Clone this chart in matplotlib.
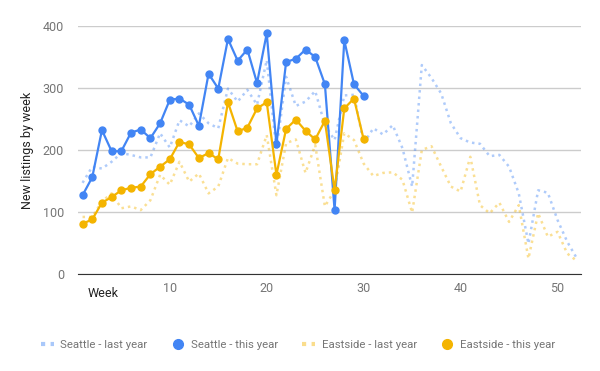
import numpy as np
import matplotlib.pyplot as plt
from matplotlib.lines import Line2D

plt.rcParams['font.family'] = ['Roboto', 'DejaVu Sans']

weeks_last = list(range(1, 53))
weeks_this = list(range(1, 31))

seattle_last = [147, 173, 170, 181, 195, 192, 188, 188, 227, 204,
                248, 238, 259, 243, 235, 299, 278, 297, 273, 345,
                200, 318, 271, 278, 295, 240, 216, 288, 289, 211,
                235, 225, 240, 203, 141, 337, 316, 291, 243, 219,
                212, 210, 190, 192, 173, 130, 49, 135, 131, 87,
                52, 25]
seattle_this = [127, 156, 232, 198, 198, 228, 233, 219, 243, 281,
                283, 273, 239, 323, 299, 379, 344, 362, 308, 388,
                209, 342, 347, 362, 350, 306, 103, 377, 306, 287]
eastside_last = [92, 92, 117, 130, 106, 109, 103, 119, 160, 144,
                 181, 149, 162, 130, 141, 187, 178, 177, 177, 224,
                 127, 211, 217, 163, 208, 109, 135, 227, 216, 178,
                 158, 163, 164, 152, 99, 200, 206, 173, 141, 133,
                 189, 111, 98, 115, 84, 111, 25, 98, 60, 68,
                 33, 21]
eastside_this = [81, 88, 115, 124, 135, 139, 141, 161, 173, 185,
                 213, 209, 187, 195, 185, 277, 230, 236, 267, 277,
                 160, 234, 249, 231, 217, 247, 135, 267, 283, 217]

blue = '#4285F4'
yellow = '#F4B400'
grey = '#757575'

fig = plt.figure(figsize=(6, 3.71), dpi=100)
ax = fig.add_axes([0.13, 0.2615, 0.838, 0.6685])

dots = (0, (1, 1.6))
ax.plot(weeks_last, seattle_last, color=blue, alpha=0.42, lw=1.8, ls=dots, zorder=2)
ax.plot(weeks_last, eastside_last, color=yellow, alpha=0.42, lw=1.8, ls=dots, zorder=2)
ax.plot(weeks_this, seattle_this, color=blue, lw=1.6, marker='o', ms=5, zorder=3, clip_on=False)
ax.plot(weeks_this, eastside_this, color=yellow, lw=1.6, marker='o', ms=5, zorder=4, clip_on=False)

ax.set_xlim(0.53, 52.4)
ax.set_ylim(0, 400)
ax.set_yticks([0, 100, 200, 300, 400])
ax.set_xticks([10, 20, 30, 40, 50])
ax.grid(axis='y', color='#cccccc', lw=1)
ax.set_axisbelow(True)
for s in ['top', 'right', 'left']:
    ax.spines[s].set_visible(False)
ax.spines['bottom'].set_color('#333333')
ax.tick_params(length=0, labelsize=9, colors=grey, pad=6)
ax.tick_params(axis='y', pad=10)
ax.set_ylabel('New listings by week', fontsize=9, color='#222222', labelpad=6)
ax.text(0.02, -0.077, 'Week', transform=ax.transAxes, fontsize=9, color='#222222',
        ha='left', va='center')

handles = [
    Line2D([], [], color=blue, alpha=0.45, lw=3, ls=(0, (1, 1.3))),
    Line2D([], [], color=blue, marker='o', ms=7, lw=0),
    Line2D([], [], color=yellow, alpha=0.45, lw=3, ls=(0, (1, 1.3))),
    Line2D([], [], color=yellow, marker='o', ms=7, lw=0),
]
labels = ['Seattle - last year', 'Seattle - this year', 'Eastside - last year', 'Eastside - this year']
fig.legend(handles, labels, loc='center', bbox_to_anchor=(0.497, 0.07), ncol=4, frameon=False,
           fontsize=8.2, labelcolor=grey, handlelength=1.1, handletextpad=0.6, columnspacing=2.1)

fig.savefig('out.png', dpi=100)
